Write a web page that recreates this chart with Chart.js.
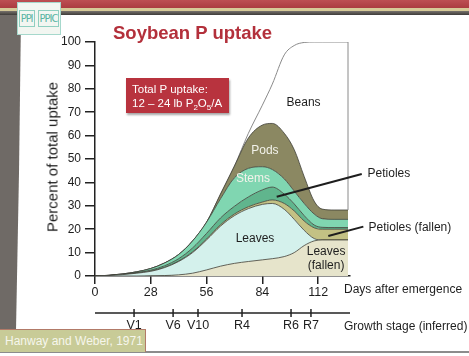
<!DOCTYPE html>
<html>
<head>
<meta charset="utf-8">
<script src="https://cdn.jsdelivr.net/npm/chart.js@4.4.1/dist/chart.umd.min.js"></script>
<style>
  html, body { margin:0; padding:0; background:#ffffff; }
  body { width:469px; height:356px; position:relative; overflow:hidden; font-family:"Liberation Sans", Arial, sans-serif; }
  .abs { position:absolute; }
  #chart { position:absolute; left:0; top:0; z-index:2; }
  .txt { position:absolute; z-index:3; color:#1e1e1e; white-space:nowrap; }
</style>
</head>
<body>
<!-- slide decorations -->
<div class="abs" style="left:0;top:0;width:469px;height:9px;background:linear-gradient(#bd4f53,#a9393e);"></div>
<div class="abs" style="left:0;top:8px;width:469px;height:3px;background:#d6ca98;"></div>
<div class="abs" style="left:0;top:11px;width:469px;height:4px;background:linear-gradient(#77726c,#3e3c39);"></div>
<div class="abs" style="left:0;top:15px;width:21px;height:315px;background:#6f6a66;clip-path:polygon(0 0,21px 0,19px 50%,16px 100%,0 100%);"></div>
<div class="abs" style="left:17px;top:2px;width:42px;height:31px;background:#f2f6f1;border:1.5px solid #a6d8cc;z-index:4;display:flex;align-items:center;justify-content:center;gap:3px;font-family:'DejaVu Sans Condensed','Liberation Sans Narrow',sans-serif;font-size:11px;color:#58b4a3;letter-spacing:-1px;">
  <span style="border:1px solid #8fcfc0;padding:1px 1px;">PPI</span><span style="border:1px solid #8fcfc0;padding:1px 1px;">PPIC</span>
</div>
<div class="abs" style="left:0;top:329px;width:145px;height:22px;background:#c8cb97;border-top:1px solid #b27a68;border-right:1px solid #b27a68;z-index:3;"></div>
<div class="txt" style="left:5px;top:334px;font-size:12px;color:#f6f6ec;z-index:4;">Hanway and Weber, 1971</div>
<div class="abs" style="left:0;top:351px;width:469px;height:1.5px;background:#8c8c8c;"></div>

<!-- titles -->
<div class="txt" style="left:113px;top:22px;font-size:18.5px;font-weight:bold;color:#b3303b;">Soybean P uptake</div>
<div class="abs" style="left:126px;top:78px;width:103px;height:35px;background:#b8333e;box-shadow:1px 2px 2px rgba(0,0,0,0.35);z-index:3;"></div>
<div class="txt" style="left:132px;top:82px;font-size:11.5px;line-height:14px;color:#ffffff;z-index:4;">Total P uptake:<br>12 – 24 lb P<sub style="font-size:8px;">2</sub>O<sub style="font-size:8px;">5</sub>/A</div>
<div class="txt" style="left:52px;top:157px;font-size:15px;transform:translate(-50%,-50%) rotate(-90deg);">Percent of total uptake</div>
<div class="txt" style="left:344px;top:282px;font-size:12px;">Days after emergence</div>
<div class="txt" style="left:344px;top:319px;font-size:12px;">Growth stage (inferred)</div>

<canvas id="chart" width="469" height="356"></canvas>

<script>
// ---- data ----
const days          = [0, 7, 14, 21, 28, 35, 42, 49, 56, 63, 70, 77, 84, 89, 95, 100, 105, 110, 114, 120, 127];
const leavesFallen  = [0, 0, 0, 0, 0.1, 0.2, 0.5, 1.2, 2.6, 4.2, 5.4, 6.2, 6.9, 7.4, 8.3, 10, 13, 15, 15.4, 15.4, 15.4];
const leaves        = [0, 0.2, 0.6, 1.2, 1.9, 3.4, 5.7, 8.8, 12.8, 17.1, 20.4, 22.6, 23.7, 23.6, 20.2, 14.2, 6.5, 1, 0, 0, 0];
const petiolesFallen= [0, 0, 0, 0.05, 0.1, 0.1, 0.2, 0.3, 0.4, 0.6, 0.7, 0.8, 1.0, 1.5, 2.5, 3.6, 4.0, 4.6, 4.6, 4.6, 4.6];
const petioles      = [0, 0.05, 0.1, 0.25, 0.4, 0.7, 1.0, 1.7, 2.4, 2.9, 3.3, 4.2, 5.2, 5.5, 4.0, 3.0, 2.3, 1.2, 0.8, 0.7, 0.7];
const stems         = [0, 0.05, 0.2, 0.3, 0.7, 1.2, 1.8, 3.0, 4.8, 8.2, 12.2, 12.2, 9.9, 7.5, 6.5, 5.5, 5.2, 4.7, 3.7, 3.5, 3.5];
const pods          = [0, 0, 0, 0, 0, 0, 0, 0, 0, 2, 5, 13, 17.8, 19.7, 19.5, 17.7, 11.5, 5.5, 4.1, 4.0, 4.0];
const beans         = [0, 0, 0, 0, 0, 0, 0, 0, 0, 0, 0, 2, 8.5, 16.8, 33.5, 44.5, 57.3, 68, 71.4, 71.8, 71.8];

const xTicks = [0, 28, 56, 84, 112];
const yMax = 100;
const stageDays   = [19.6, 39.2, 51.7, 73.8, 98.4, 108.4];
const stageLabels = ['V1', 'V6', 'V10', 'R4', 'R6', 'R7'];

// in-chart labels (data coordinates)
const areaLabels = [
  {t:'Beans', d:104.7, v:74.1, c:'#1e1e1e'},
  {t:'Pods', d:85.3, v:53.4, c:'#f2f2ea'},
  {t:'Stems', d:79.3, v:41.7, c:'#f2f2ea'},
  {t:'Leaves', d:80.3, v:16.0, c:'#1e1e1e'},
  {t:'Leaves', d:116.0, v:10.5, c:'#1e1e1e'},
  {t:'(fallen)', d:116.0, v:4.6, c:'#1e1e1e'}
];
const callouts = [
  {t:'Petioles', from:[91.2, 33.9], to:[133.9, 43.6], label:[136.8, 43.8]},
  {t:'Petioles (fallen)', from:[117.1, 17.1], to:[134.7, 21.1], label:[137.3, 20.7]}
];

const series = [
  {label:'Leaves (fallen)', data:leavesFallen, bg:'#e6e4cb', fill:'origin'},
  {label:'Leaves', data:leaves, bg:'#d4f1ec', fill:'-1'},
  {label:'Petioles (fallen)', data:petiolesFallen, bg:'#c3c184', fill:'-1'},
  {label:'Petioles', data:petioles, bg:'#60b58d', fill:'-1'},
  {label:'Stems', data:stems, bg:'#80d6b1', fill:'-1'},
  {label:'Pods', data:pods, bg:'#8b8862', fill:'-1'},
  {label:'Beans', data:beans, bg:'#ffffff', fill:'-1'}
];

const datasets = series.map(s => ({
  label: s.label,
  data: s.data.map((v, i) => ({x: days[i], y: v})),
  backgroundColor: s.bg,
  borderColor: s.label === 'Beans' ? '#8a8a8a' : '#3e3e36',
  borderWidth: s.label === 'Beans' ? 1 : 0.8,
  fill: s.fill,
  pointRadius: 0,
  cubicInterpolationMode: 'monotone'
}));

const overlay = {
  id: 'overlay',
  afterDraw(chart) {
    const {ctx, chartArea, scales: {x, y}} = chart;
    ctx.save();
    // right edge of beans area
    const last = days.length - 1;
    const podsTopEnd = leavesFallen[last] + leaves[last] + petiolesFallen[last] + petioles[last] + stems[last] + pods[last];
    const xe = x.getPixelForValue(days[last]);
    ctx.strokeStyle = '#8a8a8a'; ctx.lineWidth = 1;
    ctx.beginPath(); ctx.moveTo(xe, y.getPixelForValue(yMax)); ctx.lineTo(xe, y.getPixelForValue(podsTopEnd)); ctx.stroke();

    // area labels
    ctx.font = '12px "Liberation Sans", Arial, sans-serif';
    ctx.textAlign = 'center'; ctx.textBaseline = 'middle';
    areaLabels.forEach(l => {
      ctx.fillStyle = l.c;
      ctx.fillText(l.t, x.getPixelForValue(l.d), y.getPixelForValue(l.v));
    });
    // callouts
    ctx.strokeStyle = '#1e1e1e'; ctx.lineWidth = 2;
    ctx.textAlign = 'left'; ctx.fillStyle = '#1e1e1e';
    callouts.forEach(c => {
      ctx.beginPath();
      ctx.moveTo(x.getPixelForValue(c.from[0]), y.getPixelForValue(c.from[1]));
      ctx.lineTo(x.getPixelForValue(c.to[0]), y.getPixelForValue(c.to[1]));
      ctx.stroke();
      ctx.fillText(c.t, x.getPixelForValue(c.label[0]), y.getPixelForValue(c.label[1]));
    });

    // growth stage axis
    const ys = chartArea.bottom + 37;
    ctx.strokeStyle = '#222'; ctx.lineWidth = 1.5;
    ctx.beginPath(); ctx.moveTo(chartArea.left, ys); ctx.lineTo(chartArea.right, ys); ctx.stroke();
    ctx.textAlign = 'center'; ctx.textBaseline = 'middle';
    ctx.font = '12.5px "Liberation Sans", Arial, sans-serif';
    stageDays.forEach((d, i) => {
      const px = x.getPixelForValue(d);
      ctx.beginPath(); ctx.moveTo(px, ys - 4); ctx.lineTo(px, ys + 4); ctx.stroke();
      ctx.fillText(stageLabels[i], px, ys + 13);
    });
    ctx.restore();
  }
};

new Chart(document.getElementById('chart'), {
  type: 'line',
  data: { datasets },
  options: {
    responsive: false,
    animation: false,
    devicePixelRatio: 1,
    layout: { padding: { left: 0, top: 42, right: 119, bottom: 0 } },
    plugins: { legend: { display: false }, tooltip: { enabled: false } },
    elements: { line: { tension: 0.4 } },
    scales: {
      x: {
        type: 'linear', min: 0, max: 128,
        afterBuildTicks: s => { s.ticks = xTicks.map(v => ({value: v})); },
        afterFit: s => { s.height = 80; },
        grid: { display: true, drawOnChartArea: false, drawTicks: true, tickLength: 8, color: '#222', lineWidth: 1.5 },
        border: { display: true, color: '#222', width: 1.5 },
        ticks: { color: '#1e1e1e', padding: 1, maxRotation: 0, font: { family: '"Liberation Sans", Arial, sans-serif', size: 12.5 } }
      },
      y: {
        stacked: true, min: 0, max: yMax,
        afterFit: s => { s.width = 95; },
        grid: { display: true, drawOnChartArea: false, drawTicks: true, tickLength: 10, color: '#222', lineWidth: 1.5 },
        border: { display: true, color: '#222', width: 1.5 },
        ticks: { stepSize: 10, color: '#1e1e1e', padding: 4, font: { family: '"Liberation Sans", Arial, sans-serif', size: 12 } }
      }
    }
  },
  plugins: [overlay]
});
</script>
</body>
</html>
